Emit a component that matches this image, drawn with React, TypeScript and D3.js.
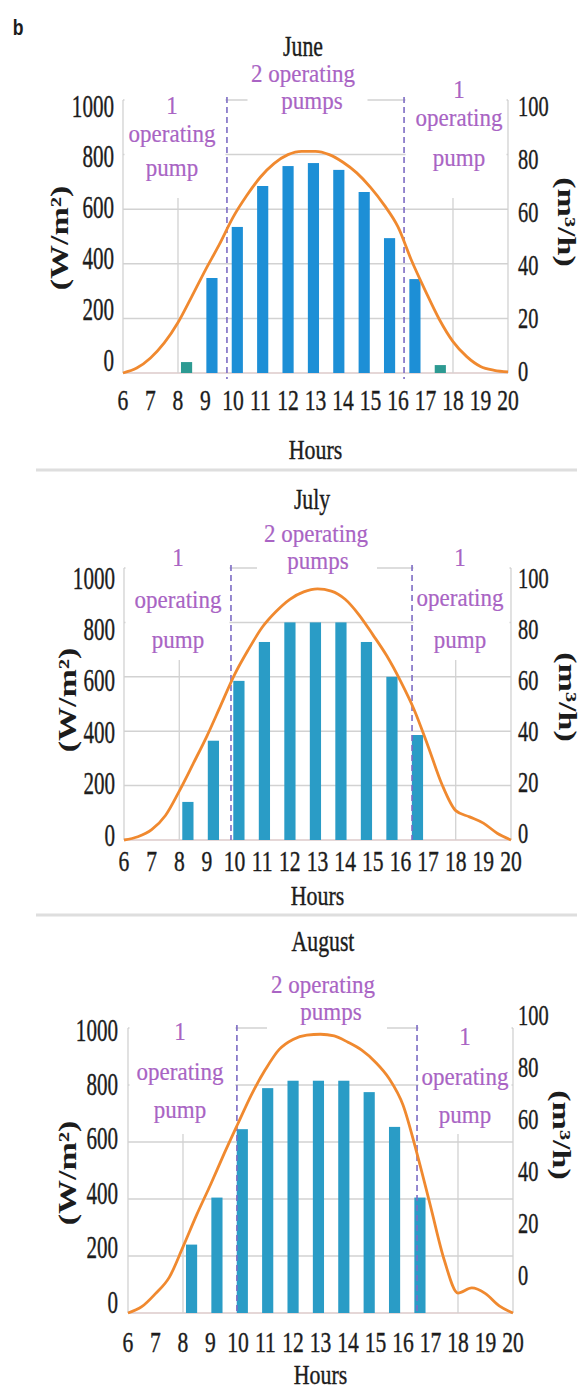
import React from "react";
import * as d3 from "d3";

// ---------- data ----------
const hourTicks = [6, 7, 8, 9, 10, 11, 12, 13, 14, 15, 16, 17, 18, 19, 20];
const lineHours = [6, 6.5, 7, 7.5, 8, 8.5, 9, 9.5, 10, 10.5, 11, 11.5, 12, 12.5, 13, 13.5, 14, 14.5, 15, 15.5, 16, 16.5, 17, 17.5, 18, 18.5, 19, 19.5, 20];
// solar irradiance (W/m²)
const juneIrradiance = [0, 18, 55, 110, 185, 280, 378, 470, 570, 650, 718, 768, 800, 812, 812, 800, 772, 733, 680, 615, 535, 410, 300, 197, 115, 60, 24, 10, 4];
const julyIrradiance = [0, 12, 38, 90, 180, 280, 382, 495, 608, 700, 782, 840, 885, 912, 923, 915, 885, 828, 755, 678, 585, 478, 345, 205, 108, 85, 62, 25, 0];
const augustIrradiance = [0, 22, 68, 125, 232, 345, 450, 560, 665, 768, 855, 925, 960, 975, 978, 972, 950, 922, 880, 822, 730, 563, 375, 186, 70, 88, 68, 25, 0];
// pumped flow (m³/h)
const barHours = [8, 9, 10, 11, 12, 13, 14, 15, 16, 17, 18];
const juneFlow = [4, 34.8, 53.5, 68.5, 75.8, 76.9, 74.4, 66.3, 49.4, 34.4, 2.9];
const julyFlow = [14, 36.5, 58.5, 72.8, 80, 80, 80, 72.8, 60, 38.6];
const augustFlow = [24, 40.5, 64.5, 78.9, 81.5, 81.5, 81.5, 77.5, 65.3, 40.5];
const irradianceTicks = [0, 200, 400, 600, 800, 1000];
const flowTicks = [0, 20, 40, 60, 80, 100];
const monthNames = ["June", "July", "August"];
// hours where the second pump switches on / off
const juneSwitch = [9.78, 16.22];
const julySwitch = [9.87, 16.42];
const augustSwitch = [9.96, 16.51];

// ---------- layout ----------
const FONT = "'Liberation Serif', 'Times New Roman', serif";
const PURPLE = "#a964c4";
const INK = "#1c1c1c";
const GRID = "#d2d2d2";

const layouts = [
  { left: 123, right: 508, top: 100, bottom: 373, leftLab: [360, 106], rightLab: [371, 106], leftLabX: 114, rightLabX: 518, tickY: 400, hoursY: 450, title: [303, 46], center: [[303, 74], [312, 101]], leftNote: [172, [106, 134, 168]], rightNote: [459, [90, 118, 158]], boxBottom: 198, wLab: [60, 238], mLab: [566, 222], dashExtra: 6, barColor: "#1d8fd6", smallBar: "#2d9a92" },
  { left: 124, right: 511, top: 568, bottom: 840, leftLab: [835, 578], rightLab: [833, 578], leftLabX: 115, rightLabX: 518, tickY: 861, hoursY: 896, title: [312, 499], center: [[316, 534], [318, 561]], leftNote: [178, [558, 600, 640]], rightNote: [460, [558, 598, 640]], boxBottom: 660, wLab: [68, 700], mLab: [567, 697], dashExtra: 0, barColor: "#2a9cc6", smallBar: "#2a9cc6" },
  { left: 128, right: 513, top: 1028, bottom: 1313, leftLab: [1302, 1030], rightLab: [1275, 1015], leftLabX: 118, rightLabX: 518, tickY: 1342, hoursY: 1375, title: [323, 941], center: [[323, 985], [331, 1012]], leftNote: [180, [1032, 1072, 1110]], rightNote: [465, [1037, 1077, 1115]], boxBottom: 1134, wLab: [68, 1173], mLab: [561, 1135], dashExtra: 0, barColor: "#2a9cc6", smallBar: "#2a9cc6" },
];

type TProps = { x: number; y: number; s: string; size: number; sx?: number; anchor?: string; fill?: string; weight?: string; sw?: number };
const T = ({ x, y, s, size, sx = 0.7, anchor = "middle", fill = INK, weight = "normal", sw = 0 }: TProps) => (
  <text
    transform={`translate(${x},${y}) scale(${sx},1)`}
    fontSize={size}
    textAnchor={anchor as any}
    dominantBaseline="central"
    fill={fill}
    stroke={sw > 0 ? fill : "none"}
    strokeWidth={sw}
    fontFamily={FONT}
    fontWeight={weight}
  >
    {s}
  </text>
);

function Panel({ L, month, irr, flow, sw }: any) {
  const x = d3.scaleLinear().domain([6, 20]).range([L.left, L.right]);
  const yI = d3.scaleLinear().domain([0, 1000]).range([L.bottom, L.top]);
  const yF = d3.scaleLinear().domain([0, 100]).range([L.bottom, L.top]);
  const yLeftLab = d3.scaleLinear().domain([0, 1000]).range(L.leftLab);
  const yRightLab = d3.scaleLinear().domain([0, 100]).range(L.rightLab);
  const band = d3
    .scaleBand<number>()
    .domain(barHours)
    .range([x(7.85), x(18)])
    .paddingInner(0.56)
    .paddingOuter(0.28);
  const line = d3
    .line<number>()
    .x((_, i) => x(lineHours[i]))
    .y((d) => yI(d))
    .curve(d3.curveMonotoneX);

  const [dL, dR] = [x(sw[0]), x(sw[1])];
  const boxTop = L.top - 14;
  const cx = (L.center[0][0] + L.center[1][0]) / 2;

  return (
    <g>
      {/* gridlines */}
      {irradianceTicks.map((t) => (
        <line key={"h" + t} x1={L.left} x2={L.right} y1={yI(t)} y2={yI(t)} stroke={t === 0 ? "#dccaca" : GRID} strokeWidth={1.5} />
      ))}
      {[6, 8, 18, 20].map((h) => (
        <line key={"v" + h} x1={x(h)} x2={x(h)} y1={L.top} y2={L.bottom} stroke={GRID} strokeWidth={1.3} />
      ))}
      {/* white boxes behind annotations */}
      <rect x={L.left + 1.5} y={boxTop} width={dL - L.left - 3} height={L.boxBottom - boxTop} fill="#fff" />
      <rect x={dR + 1.5} y={boxTop} width={L.right - dR - 3} height={L.boxBottom - boxTop} fill="#fff" />
      <rect x={cx - 60} y={L.center[1][1] - 14} width={120} height={L.top + 6 - (L.center[1][1] - 14)} fill="#fff" />
      {/* bars */}
      {flow.map((v: number, i: number) => (
        <rect
          key={"b" + i}
          x={band(barHours[i])}
          y={yF(v)}
          width={band.bandwidth()}
          height={yF(0) - yF(v)}
          fill={v < 10 ? L.smallBar : L.barColor}
        />
      ))}
      {/* pump switching lines */}
      {[dL, dR].map((d, i) => (
        <line key={"d" + i} x1={d} x2={d} y1={L.top - 3} y2={L.bottom + L.dashExtra} stroke="#7d6cc4" strokeWidth={1.6} strokeDasharray="6,4" />
      ))}
      {/* irradiance line */}
      <path d={line(irr) || ""} fill="none" stroke="#f0892f" strokeWidth={2.8} />
      {/* axis labels */}
      {irradianceTicks.map((t) => (
        <T key={"l" + t} x={L.leftLabX} y={yLeftLab(t)} s={String(t)} size={31} sx={0.68} anchor="end" sw={0.4} />
      ))}
      {flowTicks.map((t) => (
        <T key={"r" + t} x={L.rightLabX} y={yRightLab(t)} s={String(t)} size={30} sx={0.68} anchor="start" sw={0.4} />
      ))}
      {hourTicks.map((h) => (
        <T key={"x" + h} x={x(h)} y={L.tickY} s={String(h)} size={30} sx={0.72} sw={0.4} />
      ))}
      <T x={x(13)} y={L.hoursY} s="Hours" size={28} sx={0.78} sw={0.4} />
      <T x={L.title[0]} y={L.title[1]} s={month} size={29} sx={0.75} sw={0.4} />
      <text
        transform={`translate(${L.wLab[0]},${L.wLab[1]}) rotate(-90) scale(1,0.72)`}
        fontSize={34}
        textAnchor="middle"
        dominantBaseline="central"
        fill={INK}
        fontFamily={FONT}
        fontWeight="bold"
      >
        (W/m²)
      </text>
      <text
        transform={`translate(${L.mLab[0]},${L.mLab[1]}) rotate(90) scale(1,0.72)`}
        fontSize={34}
        textAnchor="middle"
        dominantBaseline="central"
        fill={INK}
        fontFamily={FONT}
        fontWeight="bold"
      >
        (m³/h)
      </text>
      {/* annotations */}
      <T x={L.center[0][0]} y={L.center[0][1]} s="2 operating" size={25} sx={0.92} fill={PURPLE} sw={0.2} />
      <T x={L.center[1][0]} y={L.center[1][1]} s="pumps" size={25} sx={0.92} fill={PURPLE} sw={0.2} />
      {["1", "operating", "pump"].map((s, i) => (
        <T key={"ln" + i} x={L.leftNote[0]} y={L.leftNote[1][i]} s={s} size={25} sx={0.92} fill={PURPLE} sw={0.2} />
      ))}
      {["1", "operating", "pump"].map((s, i) => (
        <T key={"rn" + i} x={L.rightNote[0]} y={L.rightNote[1][i]} s={s} size={25} sx={0.92} fill={PURPLE} sw={0.2} />
      ))}
    </g>
  );
}

export default function App() {
  const irrs = [juneIrradiance, julyIrradiance, augustIrradiance];
  const flows = [juneFlow, julyFlow, augustFlow];
  const sws = [juneSwitch, julySwitch, augustSwitch];
  return (
    <svg
      width={587}
      height={1394}
      viewBox="0 0 587 1394"
      style={{ position: "absolute", left: 0, top: 0, display: "block", background: "#fff" }}
    >
      <rect x={0} y={0} width={587} height={1394} fill="#fff" />
      <text transform="translate(18,27) scale(0.8,1)" fontSize={22} fontWeight="bold" fontFamily="'Liberation Sans', Arial, sans-serif" textAnchor="middle" dominantBaseline="central" fill={INK}>
        b
      </text>
      {[470, 915].map((y) => (
        <line key={y} x1={36} x2={577} y1={y} y2={y} stroke="#dedede" strokeWidth={3} />
      ))}
      {layouts.map((L, i) => (
        <Panel key={i} L={L} month={monthNames[i]} irr={irrs[i]} flow={flows[i]} sw={sws[i]} />
      ))}
    </svg>
  );
}
